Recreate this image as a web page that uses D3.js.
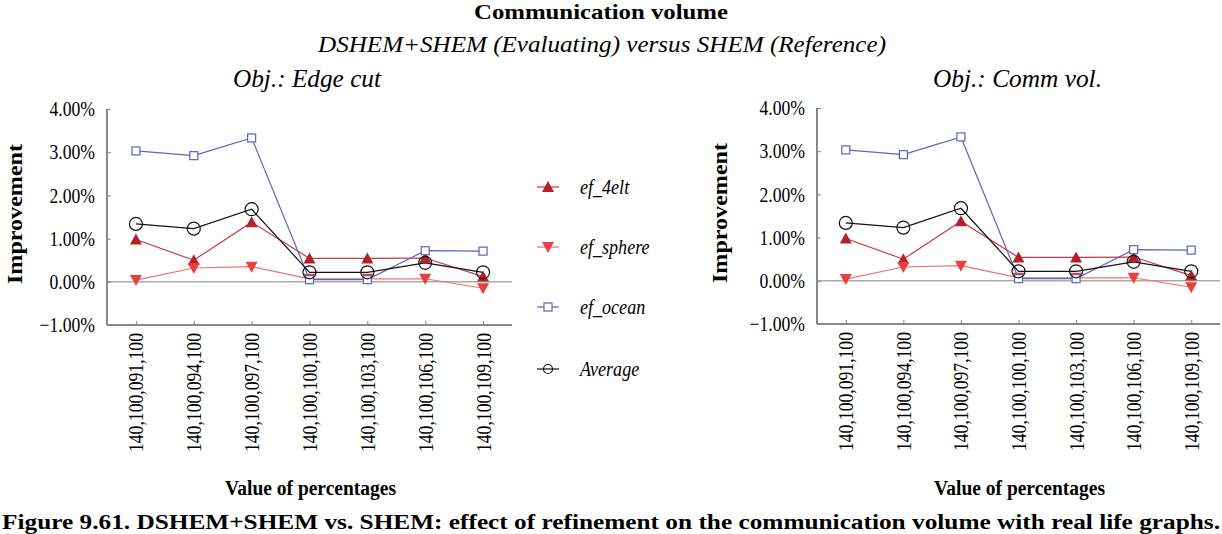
<!DOCTYPE html>
<html>
<head>
<meta charset="utf-8">
<script src="https://cdn.jsdelivr.net/npm/d3@7"></script>
<style>
  html, body { margin: 0; padding: 0; background: #fff; }
  svg { display: block; }
</style>
</head>
<body>
<svg id="chart" width="1222" height="534"></svg>
<script>
const categories = ["140,100,091,100", "140,100,094,100", "140,100,097,100", "140,100,100,100",
                    "140,100,103,100", "140,100,106,100", "140,100,109,100"];
const ef4elt   = [0.98, 0.50, 1.38, 0.54, 0.54, 0.55, 0.12];
const efSphere = [0.04, 0.32, 0.35, 0.07, 0.07, 0.07, -0.15];
const efOcean  = [3.03, 2.92, 3.33, 0.05, 0.05, 0.72, 0.71];
const average  = [1.34, 1.23, 1.68, 0.22, 0.22, 0.44, 0.22];
const yTicks   = [-1, 0, 1, 2, 3, 4];
const seriesNames = ["ef_4elt", "ef_sphere", "ef_ocean", "Average"];
const panelTitles = ["Obj.: Edge cut", "Obj.: Comm vol."];

const styles = [
  { line: "#c93a40", marker: "up",   fill: "#b5202a", stroke: "#b5202a" },
  { line: "#f07070", marker: "down", fill: "#e8403f", stroke: "#e8403f" },
  { line: "#5766c2", marker: "square", fill: "#fff", stroke: "#5766c2" },
  { line: "#111",    marker: "circle", fill: "none", stroke: "#111" }
];
const seriesData = [ef4elt, efSphere, efOcean, average];
const FONT = "Liberation Serif";

const svg = d3.select("#chart");

function drawMarker(g, type, x, y, st, big) {
  if (type === "up") {
    g.append("path").attr("d", `M${x},${y-6}L${x+6},${y+5}L${x-6},${y+5}Z`).attr("fill", st.fill);
  } else if (type === "down") {
    g.append("path").attr("d", `M${x},${y+6}L${x+6},${y-5}L${x-6},${y-5}Z`).attr("fill", st.fill);
  } else if (type === "square") {
    g.append("rect").attr("x", x-4).attr("y", y-4).attr("width", 8).attr("height", 8)
      .attr("fill", "#fff").attr("stroke", st.stroke).attr("stroke-width", 1.2);
  } else {
    g.append("circle").attr("cx", x).attr("cy", y).attr("r", big ? 6.5 : 4.5)
      .attr("fill", "none").attr("stroke", st.stroke).attr("stroke-width", 1.2);
  }
}

function txt(parent) {
  return parent.append("text").attr("font-family", FONT).attr("fill", "#000");
}
// narrow the glyphs horizontally (the reference uses a condensed serif)
function condense(sel, k) {
  const w = sel.node().getComputedTextLength();
  sel.attr("textLength", w * k).attr("lengthAdjust", "spacingAndGlyphs");
  return sel;
}

function panel(x0, x1, yTop, yBot, labelX, titleX, titleText, titleLen) {
  const x = d3.scalePoint().domain(categories).range([x0, x1]).padding(0.5);
  const y = d3.scaleLinear().domain([-1, 4]).range([yBot, yTop]);
  const g = svg.append("g");

  g.append("line").attr("x1", x0).attr("x2", x1).attr("y1", y(0)).attr("y2", y(0))
    .attr("stroke", "#aaa").attr("stroke-width", 1.5);

  const ya = g.append("g").attr("transform", `translate(${x0},0)`)
    .call(d3.axisRight(y).tickValues(yTicks).tickSize(4).tickFormat(""));
  ya.select(".domain").attr("stroke", "#888").attr("stroke-width", 2).attr("d", `M0,${yTop}V${yBot}`);
  ya.selectAll(".tick line").attr("stroke", "#888");
  yTicks.forEach(t => {
    const s = txt(g).attr("x", x0 - 12).attr("y", y(t)).attr("dy", "0.34em")
      .attr("text-anchor", "end").attr("font-size", 21)
      .text((t < 0 ? "\u2212" + Math.abs(t).toFixed(2) : t.toFixed(2)) + "%");
    condense(s, 0.84);
  });

  const xa = g.append("g").attr("transform", `translate(0,${yBot})`)
    .call(d3.axisTop(x).tickSize(4).tickFormat(""));
  xa.select(".domain").attr("stroke", "#888").attr("stroke-width", 2).attr("d", `M${x0},0H${x1}`);
  xa.selectAll(".tick line").attr("stroke", "#888");
  categories.forEach(c => {
    const s = txt(g).attr("transform", `translate(${x(c)},${yBot + 8}) rotate(-90)`)
      .attr("text-anchor", "end").attr("dy", "0.36em").attr("font-size", 21).text(c);
    condense(s, 0.84);
  });

  seriesData.forEach((vals, i) => {
    const st = styles[i];
    const line = d3.line().x((d, j) => x(categories[j])).y(d => y(d));
    g.append("path").datum(vals).attr("d", line).attr("fill", "none")
      .attr("stroke", st.line).attr("stroke-width", 1.2);
  });
  seriesData.forEach((vals, i) => {
    vals.forEach((v, j) => drawMarker(g, styles[i].marker, x(categories[j]), y(v), styles[i], true));
  });

  txt(g).attr("transform", `translate(${labelX},${(yTop + yBot) / 2 - 3}) rotate(-90)`)
    .attr("text-anchor", "middle").attr("font-weight", "bold").attr("font-size", 21)
    .attr("textLength", 140).attr("lengthAdjust", "spacingAndGlyphs").attr("dy", "0.35em")
    .text("Improvement");
  txt(g).attr("x", (x0 + x1) / 2 + 1).attr("y", 495).attr("text-anchor", "middle")
    .attr("font-weight", "bold").attr("font-size", 20).attr("textLength", 171)
    .attr("lengthAdjust", "spacingAndGlyphs").text("Value of percentages");

  txt(svg).attr("x", titleX).attr("y", 87).attr("font-style", "italic")
    .attr("font-size", 26).attr("textLength", titleLen).attr("lengthAdjust", "spacingAndGlyphs")
    .text(titleText);
}

panel(107, 512, 109, 325, 15, 233, panelTitles[0], 148);
panel(817, 1220, 108, 324, 720, 933, panelTitles[1], 169);

const legY = [187, 247, 307, 369];
seriesNames.forEach((n, i) => {
  const st = styles[i];
  const lg = svg.append("g");
  lg.append("line").attr("x1", 537).attr("x2", 559).attr("y1", legY[i]).attr("y2", legY[i])
    .attr("stroke", st.line).attr("stroke-width", 1.2);
  drawMarker(lg, st.marker, 548, legY[i], st, false);
  const s = txt(lg).attr("x", 580).attr("y", legY[i]).attr("dy", "0.35em")
    .attr("font-style", "italic").attr("font-size", 21).text(n);
  condense(s, 0.86);
});

txt(svg).attr("x", 601).attr("y", 19).attr("text-anchor", "middle")
  .attr("font-weight", "bold").attr("font-size", 20).attr("textLength", 254)
  .attr("lengthAdjust", "spacingAndGlyphs").text("Communication volume");
txt(svg).attr("x", 602).attr("y", 52).attr("text-anchor", "middle")
  .attr("font-style", "italic").attr("font-size", 23).attr("textLength", 568)
  .attr("lengthAdjust", "spacingAndGlyphs").text("DSHEM+SHEM (Evaluating) versus SHEM (Reference)");
txt(svg).attr("x", 2).attr("y", 529)
  .attr("font-weight", "bold").attr("font-size", 20).attr("textLength", 1218)
  .attr("lengthAdjust", "spacingAndGlyphs")
  .text("Figure 9.61. DSHEM+SHEM vs. SHEM: effect of refinement on the communication volume with real life graphs.");
</script>
</body>
</html>
